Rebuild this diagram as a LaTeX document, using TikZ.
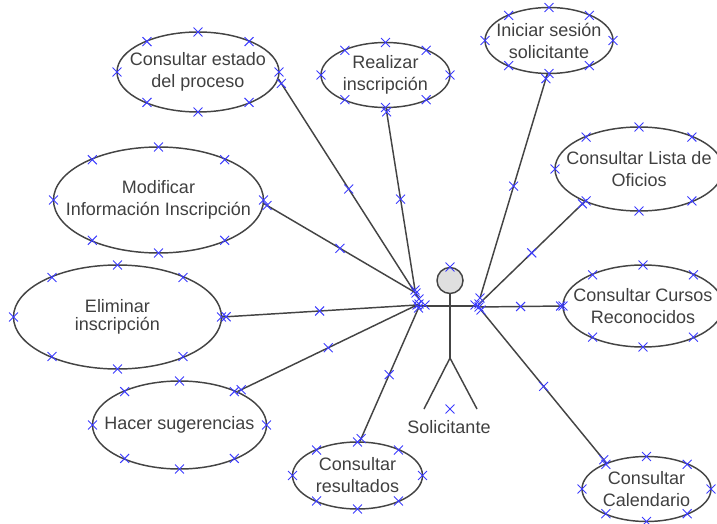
\documentclass[tikz,border=0pt]{standalone}
\usepackage{fontspec}
\setmainfont{Liberation Sans}
\usepackage{tikz}
\usetikzlibrary{positioning, calc, shapes.geometric, shapes.misc}
\definecolor{umlline}{HTML}{444444}
\definecolor{umltext}{HTML}{404040}
\definecolor{umlmark}{HTML}{3C3CFF}
\tikzstyle{usecase}=[draw=umlline,ellipse,line width=1.1pt,text=umltext,align=center,inner sep=-30pt,font=\fontsize{13.5}{16.5}\selectfont]
\tikzstyle{xmark}=[draw=umlmark,cross out,line width=.7pt,minimum size=6pt,inner sep=0pt]
\tikzstyle{assoc}=[draw=umlline,line width=1.1pt]

\begin{document}
\begin{tikzpicture}[x=.75pt,y=-.75pt]
    \useasboundingbox (0,0) rectangle (717,524);
    \clip (0,0) rectangle (717,524);
    % use cases
    \foreach \nam/\px/\py/\rx/\ry/\txt in {
      estado/198/72/81/40/{Consultar estado\\del proceso},
      realizar/385.5/75/64.5/32.5/{Realizar\\inscripción},
      iniciar/549/40.5/64/33/{Iniciar sesión\\solicitante},
      lista/639/169/84/42/{Consultar Lista de\\Oficios},
      modificar/158.5/200/105/53/{Modificar\\Información Inscripción},
      eliminar/117.5/317/104/52/{Eliminar\\[-3pt]inscripción},
      cursos/643/306/80/41/{Consultar Cursos\\Reconocidos},
      hacer/179.5/425/87/44/{Hacer sugerencias},
      resultados/357.5/475.5/65/33.5/{Consultar\\resultados},
      calendario/646.5/489/64.5/32.5/{Consultar\\Calendario}} {
      \node [usecase,minimum width=1.5*\rx pt,minimum height=1.5*\ry pt] (\nam) at (\px,\py) {\txt};
      \foreach \dx/\dy [count=\k] in {1/0,.63/.76,0/1,-.63/.76,-1/0,-.63/-.76,0/-1,.63/-.76}
        \node [xmark] (\nam-\k) at ($(\nam)+(\dx*\rx,\dy*\ry)$) {};
    }
    % actor
    \node [draw=umlline,fill=gray!25,circle,line width=1.1pt,minimum size=19.5pt,inner sep=0pt] (head) at (450,280.5) {};
    \coordinate (hip) at (450,358);
    \coordinate (lhand) at (416,306);
    \coordinate (rhand) at (479,306);
    \coordinate (lfoot) at (424,409);
    \coordinate (rfoot) at (477,409);
    \draw [assoc] (head) -- (hip);
    \draw [assoc] (lhand) -- (rhand);
    \draw [assoc] (lfoot) -- (hip) -- (rfoot);
    \node [text=umltext,font=\fontsize{13.5}{16.5}\selectfont] (actorname) at (449,427) {Solicitante};
    \node [xmark] (actortop) at (450,267) {};
    \node [xmark] (actorbottom) at (450,409) {};
    \node [xmark] (actorleft) at (425,305) {};
    \node [xmark] (actorright) at (475,305) {};
    % free ends next to the actor
    \coordinate (toestado) at (419,299);
    \coordinate (torealizar) at (415,290);
    \coordinate (tomodificar) at (416,293);
    \coordinate (toeliminar) at (417,305);
    \coordinate (tohacer) at (419,304);
    \coordinate (toresultados) at (418.5,308);
    \coordinate (toiniciar) at (480,298);
    \coordinate (tolista) at (479,304);
    \coordinate (tocursos) at (479,307);
    \coordinate (tocalendario) at (481,310);
    % associations
    \foreach \src/\dst in {
      estado.-5/toestado, realizar.-89/torealizar, modificar.-2/tomodificar,
      eliminar.east/toeliminar, hacer.30/tohacer, resultados.86/toresultados,
      iniciar.-93/toiniciar, lista.211/tolista, cursos.west/tocursos, calendario.147/tocalendario} {
      \draw [assoc] (\src) -- node [xmark,pos=.02] (\dst-a) {} node [xmark] (\dst-b) {} node [xmark,pos=1] (\dst-c) {} (\dst);
    }
\end{tikzpicture}
\end{document}
